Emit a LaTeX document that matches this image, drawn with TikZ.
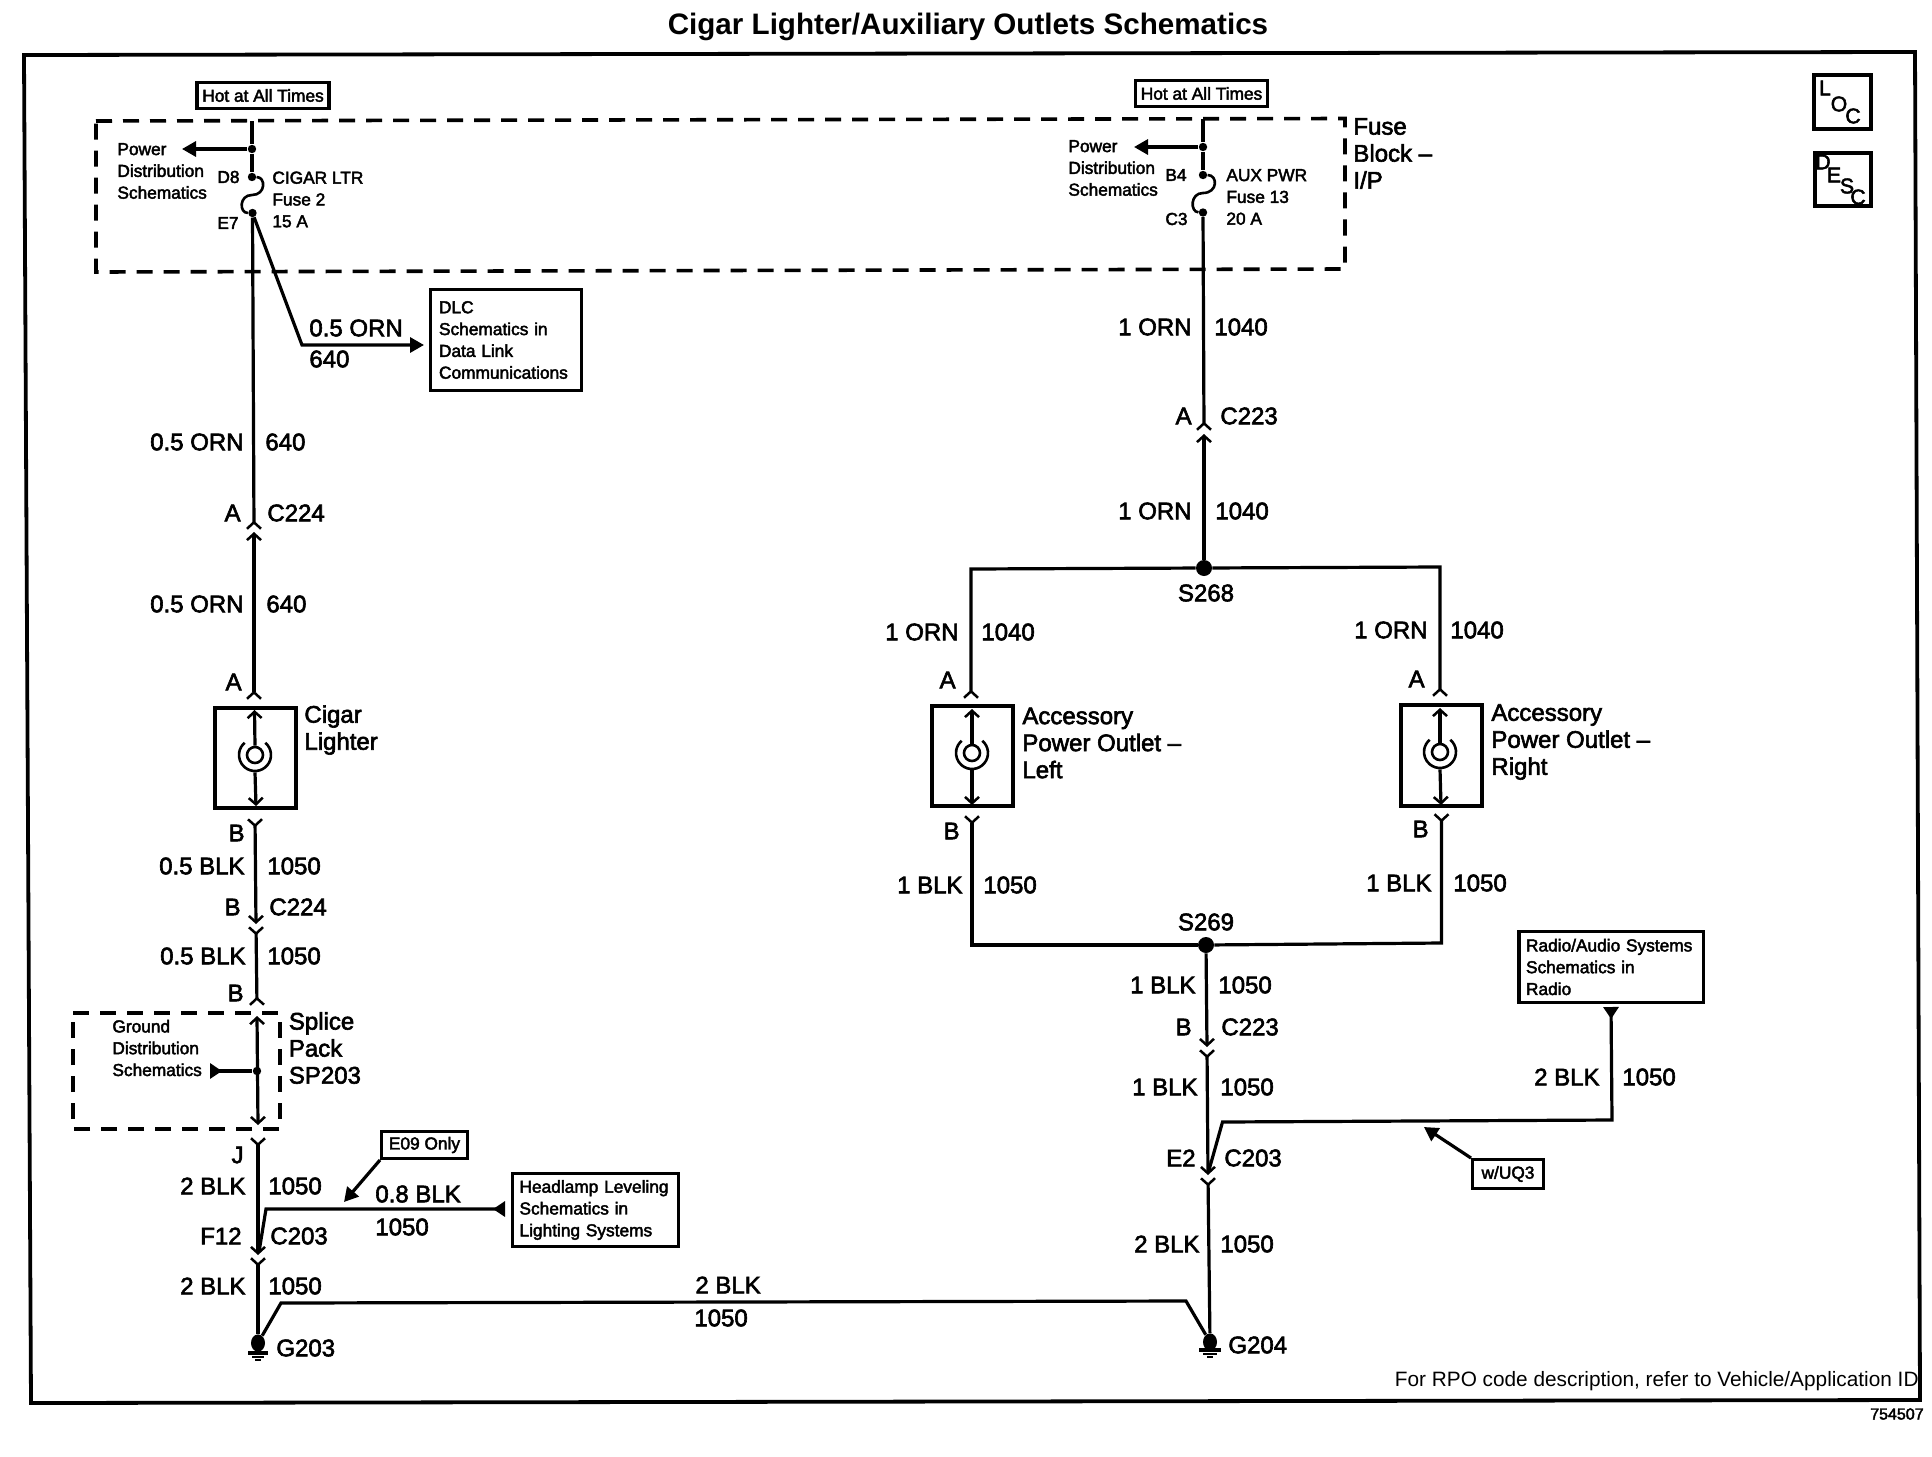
\documentclass[tikz,border=0pt]{standalone}
\usepackage{fontspec}
\usetikzlibrary{arrows.meta,shapes.geometric}
\setmainfont{Liberation Sans}
\newfontfamily\scanfont[FakeBold=2.5]{Liberation Sans}
\newcommand{\smalltext}{\scanfont\fontsize{8.65}{10.9}\selectfont}
\newcommand{\wiretext}{\scanfont\fontsize{12}{13.5}\selectfont}
\tikzset{
  capt/.tip={Straight Barb[reversed,length=3.2pt,width=7pt,line width=1.25pt]},
  pint/.tip={Straight Barb[length=3.2pt,width=7pt,line width=1.25pt]},
  fillt/.tip={Triangle[length=7pt,width=7.5pt]},
  offt/.tip={Triangle[reversed,length=6pt,width=7.5pt]},
  wire/.style={line width=1.6pt},
  ring/.style={line width=1.3pt},
  frameline/.style={line width=1.9pt},
  dashbox/.style={line width=1.8pt,dash pattern=on 8pt off 5.5pt},
  notebox/.style={draw,line width=1.7pt,inner sep=0pt,font=\smalltext},
  partbox/.style={draw,line width=1.9pt,minimum width=40.8pt,minimum height=50.3pt},
  leftbox/.style={notebox,align=left,inner xsep=4.2pt},
  smalltxt/.style={font=\smalltext,inner sep=0pt,anchor=west,align=left},
  bigtxt/.style={font=\wiretext,inner sep=0pt,anchor=west,align=left},
  loctxt/.style={font=\scanfont\fontsize{10.6}{12}\selectfont,inner sep=0pt},
  wl/.style={font=\wiretext,inner sep=0pt,anchor=east},
  wr/.style={font=\wiretext,inner sep=0pt,anchor=west},
  tapdot/.style={circle,fill,inner sep=0pt,minimum size=4.2pt},
  splicedot/.style={circle,fill,inner sep=0pt,minimum size=8pt},
  grounddot/.style={ellipse,fill,inner sep=0pt,minimum width=7pt,minimum height=8.6pt},
  socket/.style={circle,draw,ring,inner sep=0pt,minimum size=8pt},
}
\begin{document}
\begin{tikzpicture}[x=0.5pt,y=-0.5pt]
\useasboundingbox (0,0) rectangle (1932,1456);

% title and frame
\node[font=\bfseries\fontsize{14.8}{18}\selectfont,inner sep=0pt] (title) at (968,27) {Cigar Lighter/Auxiliary Outlets Schematics};
\draw[frameline] (24,55) -- (1915,52) -- (1920,1400) -- (31,1403) -- cycle;
\node[font=\fontsize{10.4}{12}\selectfont,inner sep=0pt,anchor=east] (rpo) at (1919,1381) {For RPO code description, refer to Vehicle/Application ID};
\node[font=\smalltext\fontsize{8}{10}\selectfont,inner sep=0pt,anchor=east] (figno) at (1924,1414) {754507};

% loc and desc
\node[notebox,line width=1.9pt,minimum width=28.8pt,minimum height=27.3pt] (locbox) at (1842.5,102) {};
\node[notebox,line width=1.9pt,minimum width=28.3pt,minimum height=26.8pt] (descbox) at (1843,179.5) {};
\node[loctxt] (locl) at (1825,88) {L};
\node[loctxt] (loco) at (1839,104) {O};
\node[loctxt] (locc) at (1853,116) {C};
\node[loctxt] (descd) at (1823,162) {D};
\node[loctxt] (desce) at (1834,175) {E};
\node[loctxt] (descs) at (1847,186) {S};
\node[loctxt] (descc) at (1858,197) {C};

% fuse block
\draw[dashbox] (96,121) -- (1345,118.5) -- (1345,269) -- (96,272) -- cycle;
\node[bigtxt] (fuseblock) at (1353,153.5) {Fuse\\Block –\\I/P};
\node[notebox,minimum width=66pt,minimum height=12.8pt] (hotl) at (263,95.5) {Hot at All Times};
\node[notebox,minimum width=66pt,minimum height=12.8pt] (hotr) at (1201.5,93.5) {Hot at All Times};

% left fuse
\coordinate (ltop) at (252,121);
\coordinate (lpwrtip) at (182,149);
\coordinate (lbend) at (302,345);
\coordinate (dlctip) at (424,345);
\node[tapdot] (lpwr) at (252,149) {};
\node[tapdot] (d8) at (252,177) {};
\node[tapdot] (e7) at (252.5,213) {};
\draw[wire] (ltop) -- (lpwr) -- (d8);
\draw[wire,-{fillt}] (lpwr) -- (lpwrtip);
\draw[ring] (d8) .. controls (266,177) and (266,195) .. (252,195) .. controls (239,195) and (239,213) .. (e7);
\draw[wire,-{fillt}] (e7) -- (lbend) -- (dlctip);
\node[smalltxt] (pwrl) at (117,171) {Power\\Distribution\\Schematics};
\node[smalltxt] (d8l) at (217,177) {D8};
\node[smalltxt] (e7l) at (217,223) {E7};
\node[smalltxt] (cigfuse) at (272,199.5) {CIGAR LTR\\Fuse 2\\15 A};
\node[leftbox,text width=67pt,minimum width=75pt,minimum height=50.3pt] (dlc) at (506,340) {DLC\\Schematics in\\Data Link\\Communications};
\node[wr] (orn0) at (309,328) {0.5 ORN};
\node[wr] (n0) at (309,359) {640};

% right fuse
\coordinate (rtop) at (1203,119);
\coordinate (rpwrtip) at (1134,147);
\node[tapdot] (rpwr) at (1203,147) {};
\node[tapdot] (b4) at (1203,175) {};
\node[tapdot] (c3) at (1203,212.5) {};
\draw[wire] (rtop) -- (rpwr) -- (b4);
\draw[wire,-{fillt}] (rpwr) -- (rpwrtip);
\draw[ring] (b4) .. controls (1218,175) and (1218,193) .. (1203,193) .. controls (1190,193) and (1190,212) .. (c3);
\node[smalltxt] (pwrr) at (1068,168) {Power\\Distribution\\Schematics};
\node[smalltxt] (b4l) at (1165,175) {B4};
\node[smalltxt] (c3l) at (1165,219) {C3};
\node[smalltxt] (auxfuse) at (1226,197) {AUX PWR\\Fuse 13\\20 A};

% cigar lighter feed
\coordinate (c224a) at (254,530);
\coordinate (c224b) at (254,532);
\coordinate (liga) at (254,700);
\draw[wire,-{capt}] (e7) -- (c224a);
\draw[wire,{capt}-{pint}] (liga) -- (c224b);
\node[wl] (l1) at (244,442) {0.5 ORN};
\node[wr] (l2) at (265,442) {640};
\node[wl] (l3) at (241,513) {A};
\node[wr] (l4) at (267,513) {C224};
\node[wl] (l5) at (244,604) {0.5 ORN};
\node[wr] (l6) at (266,604) {640};
\node[wl] (l7) at (242,682) {A};

% cigar lighter
\node[partbox] (ligbox) at (255.5,758) {};
\node[socket] (ligsock) at (255,755) {};
\coordinate (ligup) at (254.5,710);
\coordinate (ligdn) at (256,806);
\draw[wire,-{pint}] (ligsock.north) -- (ligup);
\draw[wire,-{pint}] (ligsock.south) ++(0,8) -- (ligdn);
\draw[ring,shift={(ligsock)}] (-50:16) arc[start angle=-50,end angle=230,radius=16];
\node[bigtxt] (ligl) at (304,730) {Cigar\\Lighter};

% cigar lighter ground
\coordinate (ligb) at (255,818);
\coordinate (c224c) at (256,924);
\coordinate (c224d) at (256,926);
\coordinate (spa) at (257,1006);
\coordinate (spb) at (257,1016);
\coordinate (spc) at (258,1125);
\coordinate (spd) at (258,1137);
\coordinate (c203a) at (258,1255);
\coordinate (c203b) at (258,1257);
\coordinate (spoff) at (210,1071);
\draw[wire,{capt}-{pint}] (ligb) -- (c224c);
\draw[wire,{capt}-{capt}] (c224d) -- (spa);
\node[tapdot] (spdot) at (257,1071) {};
\draw[wire,{pint}-{pint}] (spb) -- (spc);
\draw[wire,{offt}-] (spoff) -- (spdot);
\draw[dashbox] (73,1013) -- (280,1013) -- (280,1129) -- (73,1129) -- cycle;
\node[wl] (l8) at (245,833) {B};
\node[wl] (l9) at (245,866) {0.5 BLK};
\node[wr] (l10) at (267,866) {1050};
\node[wl] (l11) at (241,907) {B};
\node[wr] (l12) at (269,907) {C224};
\node[wl] (l13) at (246,956) {0.5 BLK};
\node[wr] (l14) at (267,956) {1050};
\node[wl] (l15) at (244,993) {B};
\node[smalltxt] (gndtxt) at (112,1048) {Ground\\Distribution\\Schematics};
\node[bigtxt] (splice) at (288.5,1048) {Splice\\Pack\\SP203};

% headlamp branch
\coordinate (f12bend) at (266,1209);
\coordinate (f12foot) at (259,1252);
\coordinate (hlend) at (505,1209);
\coordinate (e09tip) at (344,1202);
\draw[wire,{capt}-{pint}] (spd) -- (c203a);
\draw[wire,-{offt}] (f12foot) -- (f12bend) -- (hlend);
\node[leftbox,inner xsep=3.4pt,text width=76pt,minimum height=36.3pt] (hl) at (595.5,1210) {Headlamp Leveling\\Schematics in\\Lighting Systems};
\node[notebox,minimum width=42.8pt,minimum height=13.3pt] (e09) at (424.5,1145) {E09 Only};
\draw[wire,-{fillt}] (e09.south west) -- (e09tip);
\node[wl] (l16) at (244,1155) {J};
\node[wl] (l17) at (246,1186) {2 BLK};
\node[wr] (l18) at (268,1186) {1050};
\node[wl] (l19) at (242,1236) {F12};
\node[wr] (l20) at (270,1236) {C203};
\node[wr] (l21) at (375,1194) {0.8 BLK};
\node[wr] (l22) at (375,1227) {1050};

% grounds
\node[grounddot] (g203) at (258,1343) {};
\node[grounddot] (g204) at (1210,1342) {};
\coordinate (gl) at (281,1303);
\coordinate (gr) at (1186,1301);
\draw[wire,{capt}-] (c203b) -- (g203);
\draw[wire] (g203) -- (gl) -- (gr) -- (g204);
\draw[wire] ([shift={(-10,10)}]g203.center) -- ++(20,0);
\draw[ring] ([shift={(-6,14)}]g203.center) -- ++(12,0);
\draw[ring] ([shift={(-3,17)}]g203.center) -- ++(6,0);
\draw[wire] ([shift={(-11,8)}]g204.center) -- ++(22,0);
\draw[ring] ([shift={(-7,12)}]g204.center) -- ++(14,0);
\draw[ring] ([shift={(-3,15)}]g204.center) -- ++(6,0);
\node[wl] (l23) at (246,1286) {2 BLK};
\node[wr] (l24) at (268,1286) {1050};
\node[wr] (l25) at (695,1285) {2 BLK};
\node[wr] (l26) at (694,1318) {1050};
\node[wr] (l27) at (276,1348) {G203};
\node[wr] (l28) at (1228,1345) {G204};

% outlet feed
\coordinate (c223a) at (1204,431);
\coordinate (c223b) at (1204,434);
\coordinate (aleft) at (971,699);
\coordinate (aright) at (1440,697);
\coordinate (s68l) at (971,569);
\coordinate (s68r) at (1440,567);
\node[splicedot] (s268) at (1204,568) {};
\draw[wire,-{capt}] (c3) -- (c223a);
\draw[wire,-{pint}] (s268) -- (c223b);
\draw[wire,-{capt}] (s268) -- (s68l) -- (aleft);
\draw[wire,-{capt}] (s268) -- (s68r) -- (aright);
\node[wl] (r1) at (1192,327) {1 ORN};
\node[wr] (r2) at (1214,327) {1040};
\node[wl] (r3) at (1192,416) {A};
\node[wr] (r4) at (1220,416) {C223};
\node[wl] (r5) at (1192,511) {1 ORN};
\node[wr] (r6) at (1215,511) {1040};
\node[font=\wiretext,inner sep=0pt] (r7) at (1206,593) {S268};
\node[wl] (r8) at (959,632) {1 ORN};
\node[wr] (r9) at (981,632) {1040};
\node[wl] (r10) at (1428,630) {1 ORN};
\node[wr] (r11) at (1450,630) {1040};
\node[wl] (r12) at (956,680) {A};
\node[wl] (r13) at (1425,679) {A};

% left outlet
\node[partbox] (aolbox) at (972.5,756) {};
\node[socket] (aolsock) at (972,753) {};
\coordinate (aolup) at (972,709);
\coordinate (aoldn) at (972,805);
\draw[wire,-{pint}] (aolsock.north) -- (aolup);
\draw[wire,-{pint}] (aolsock.south) ++(0,8) -- (aoldn);
\draw[ring,shift={(aolsock)}] (-50:16) arc[start angle=-50,end angle=230,radius=16];
\node[bigtxt] (aoll) at (1022,743) {Accessory\\Power Outlet –\\Left};

% right outlet
\node[partbox] (aorbox) at (1441.5,755.5) {};
\node[socket] (aorsock) at (1440,752) {};
\coordinate (aorup) at (1440,708);
\coordinate (aordn) at (1441,805);
\draw[wire,-{pint}] (aorsock.north) -- (aorup);
\draw[wire,-{pint}] (aorsock.south) ++(0,8) -- (aordn);
\draw[ring,shift={(aorsock)}] (-50:16) arc[start angle=-50,end angle=230,radius=16];
\node[bigtxt] (aorl) at (1491,742) {Accessory\\Power Outlet –\\Right};

% outlet ground
\coordinate (bleft) at (972,815);
\coordinate (bright) at (1441.5,813);
\coordinate (s69l) at (972,945);
\coordinate (s69r) at (1441.5,943);
\coordinate (c223c) at (1207,1047);
\coordinate (c223d) at (1207,1049);
\coordinate (c203c) at (1208,1175);
\coordinate (c203d) at (1208,1177);
\node[splicedot] (s269) at (1206,945) {};
\draw[wire,-{capt}] (s269) -- (s69l) -- (bleft);
\draw[wire,-{capt}] (s269) -- (s69r) -- (bright);
\draw[wire,-{pint}] (s269) -- (c223c);
\draw[wire,{capt}-{pint}] (c223d) -- (c203c);
\draw[wire,{capt}-] (c203d) -- (g204);
\node[wl] (r14) at (960,831) {B};
\node[wl] (r15) at (1429,829) {B};
\node[wl] (r16) at (963,885) {1 BLK};
\node[wr] (r17) at (983,885) {1050};
\node[wl] (r18) at (1432,883) {1 BLK};
\node[wr] (r19) at (1453,883) {1050};
\node[font=\wiretext,inner sep=0pt] (r20) at (1206,922) {S269};
\node[wl] (r21) at (1196,985) {1 BLK};
\node[wr] (r22) at (1218,985) {1050};
\node[wl] (r23) at (1192,1027) {B};
\node[wr] (r24) at (1221,1027) {C223};
\node[wl] (r25) at (1198,1087) {1 BLK};
\node[wr] (r26) at (1220,1087) {1050};
\node[wl] (r27) at (1196,1158) {E2};
\node[wr] (r28) at (1224,1158) {C203};
\node[wl] (r29) at (1200,1244) {2 BLK};
\node[wr] (r30) at (1220,1244) {1050};

% radio branch
\coordinate (e2foot) at (1209,1170);
\coordinate (e2bend) at (1222.5,1122);
\coordinate (rdbend) at (1612,1120);
\coordinate (rdend) at (1611,1007);
\coordinate (uqtip) at (1424,1127);
\draw[wire,-{offt}] (e2foot) -- (e2bend) -- (rdbend) -- (rdend);
\node[leftbox,inner xsep=3.6pt,text width=85pt,minimum height=35.3pt] (radio) at (1611,967) {Radio/Audio Systems\\Schematics in\\Radio};
\node[notebox,minimum width=35.3pt,minimum height=14.3pt] (uq3) at (1508,1174) {w/UQ3};
\draw[wire,-{fillt}] (uq3.north west) -- (uqtip);
\node[wl] (r31) at (1600,1077) {2 BLK};
\node[wr] (r32) at (1622,1077) {1050};

\end{tikzpicture}
\end{document}
